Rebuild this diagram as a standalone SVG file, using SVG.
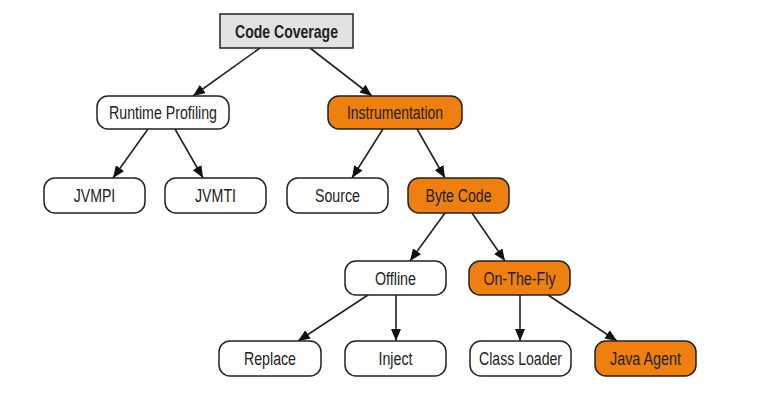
<svg xmlns="http://www.w3.org/2000/svg" width="776" height="400" viewBox="0 0 776 400">
<style>
.box{stroke:#222;stroke-width:1.5}
.w{fill:#fff}
.o{fill:#ef7f0e}
.g{fill:#e2e2e2}
text{font-family:"Liberation Sans Narrow","Liberation Sans",Arial,sans-serif;font-size:18px;fill:#222;text-anchor:middle}
.b{font-weight:bold}
.edge{stroke:#222;stroke-width:1.6;fill:none;marker-end:url(#arr)}
</style>
<defs>
<marker id="arr" markerUnits="userSpaceOnUse" markerWidth="12" markerHeight="10" viewBox="0 0 12 10" refX="12" refY="5" orient="auto">
<path d="M0,0 L12,5 L0,10 Z" fill="#111"/>
</marker>
</defs>
<rect width="776" height="400" fill="#fff"/>
<g id="connectors">
<line class="edge" x1="260" y1="48" x2="193" y2="96"/>
<line class="edge" x1="310" y1="48" x2="372" y2="96"/>
<line class="edge" x1="148" y1="129" x2="113" y2="178"/>
<line class="edge" x1="175" y1="129" x2="203" y2="178"/>
<line class="edge" x1="383" y1="129" x2="352" y2="178"/>
<line class="edge" x1="417" y1="129" x2="445" y2="178"/>
<line class="edge" x1="445" y1="213" x2="410" y2="261"/>
<line class="edge" x1="472" y1="213" x2="505" y2="261"/>
<line class="edge" x1="368" y1="295" x2="298" y2="341"/>
<line class="edge" x1="396" y1="295" x2="396" y2="341"/>
<line class="edge" x1="520" y1="295" x2="520" y2="341"/>
<line class="edge" x1="548" y1="295" x2="617" y2="341"/>
</g>
<g id="code-coverage"><rect class="box g" x="220" y="14" width="133" height="34"/><text class="b" x="286.5" y="37.5" textLength="103" lengthAdjust="spacingAndGlyphs">Code Coverage</text></g>
<g id="runtime-profiling"><rect class="box w" x="97" y="96" width="132" height="33" rx="11"/><text x="163" y="119" textLength="108" lengthAdjust="spacingAndGlyphs">Runtime Profiling</text></g>
<g id="instrumentation"><rect class="box o" x="328" y="96" width="134" height="33" rx="11"/><text x="395" y="119" textLength="96" lengthAdjust="spacingAndGlyphs">Instrumentation</text></g>
<g id="jvmpi"><rect class="box w" x="44" y="178" width="101" height="35" rx="11"/><text x="94.5" y="202" textLength="41.5" lengthAdjust="spacingAndGlyphs">JVMPI</text></g>
<g id="jvmti"><rect class="box w" x="165" y="178" width="101" height="35" rx="11"/><text x="215.5" y="202" textLength="41" lengthAdjust="spacingAndGlyphs">JVMTI</text></g>
<g id="source"><rect class="box w" x="287" y="178" width="101" height="35" rx="11"/><text x="337.5" y="202" textLength="45" lengthAdjust="spacingAndGlyphs">Source</text></g>
<g id="byte-code"><rect class="box o" x="408" y="178" width="101" height="35" rx="11"/><text x="458.5" y="202" textLength="66" lengthAdjust="spacingAndGlyphs">Byte Code</text></g>
<g id="offline"><rect class="box w" x="345" y="261" width="101" height="34" rx="11"/><text x="395.5" y="284.5" textLength="41" lengthAdjust="spacingAndGlyphs">Offline</text></g>
<g id="on-the-fly"><rect class="box o" x="469" y="261" width="101" height="34" rx="11"/><text x="519.5" y="284.5" textLength="72" lengthAdjust="spacingAndGlyphs">On-The-Fly</text></g>
<g id="replace"><rect class="box w" x="219" y="341" width="102" height="35" rx="11"/><text x="270" y="365" textLength="52" lengthAdjust="spacingAndGlyphs">Replace</text></g>
<g id="inject"><rect class="box w" x="345" y="341" width="101" height="35" rx="11"/><text x="395.5" y="365" textLength="34" lengthAdjust="spacingAndGlyphs">Inject</text></g>
<g id="class-loader"><rect class="box w" x="470" y="341" width="101" height="35" rx="11"/><text x="520.5" y="365" textLength="83" lengthAdjust="spacingAndGlyphs">Class Loader</text></g>
<g id="java-agent"><rect class="box o" x="595" y="341" width="101" height="35" rx="11"/><text x="645.5" y="365" textLength="71" lengthAdjust="spacingAndGlyphs">Java Agent</text></g>
</svg>
